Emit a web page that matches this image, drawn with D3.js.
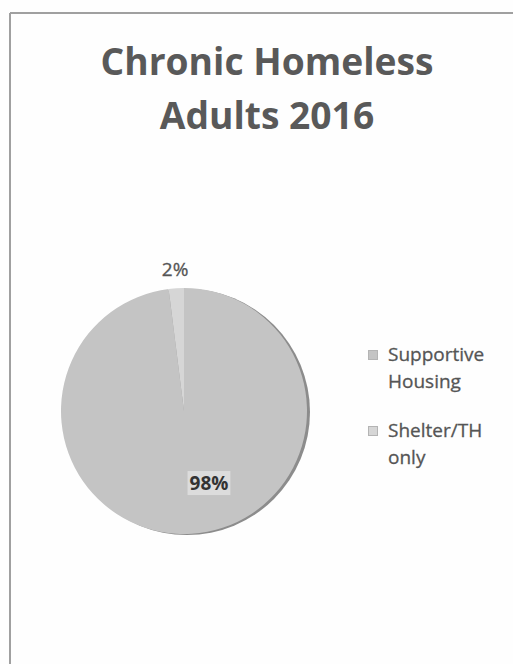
<!DOCTYPE html>
<html>
<head>
<meta charset="utf-8">
<script src="https://cdn.jsdelivr.net/npm/d3@7/dist/d3.min.js"></script>
<style>
  html, body { margin: 0; padding: 0; background: #fefefe; }
  svg { display: block; }
</style>
</head>
<body>
<svg id="chart" width="513" height="664"></svg>
<script>
// Chart content
const titleLines = ["Chronic Homeless", "Adults 2016"];
const categories = ["Supportive Housing", "Shelter/TH only"];
const legendLines = [["Supportive", "Housing"], ["Shelter/TH", "only"]];
const values = [98, 2];
const sliceColors = ["#c4c4c4", "#d6d6d6"];

const W = 513, H = 664;
const svg = d3.select("#chart");
const fontFam = "'Open Sans', Lato, sans-serif";

// Shrink or grow a text element's font so it spans the given width
function fitWidth(sel, target) {
  const fs = +sel.attr("font-size");
  const w = sel.node().getComputedTextLength();
  sel.attr("font-size", (fs * target / w).toFixed(2));
}

// Frame: left and top edges of the chart area
svg.append("line").attr("x1", 10).attr("y1", 13).attr("x2", W).attr("y2", 13)
  .attr("stroke", "#a0a0a0").attr("stroke-width", 2);
svg.append("line").attr("x1", 10).attr("y1", 13).attr("x2", 10).attr("y2", H)
  .attr("stroke", "#a0a0a0").attr("stroke-width", 2);

// Title
const title = svg.append("g");
const titleTexts = titleLines.map((t, i) =>
  title.append("text")
    .attr("x", 267).attr("y", 75 + i * 54)
    .attr("text-anchor", "middle")
    .attr("font-family", fontFam)
    .attr("font-weight", 700)
    .attr("font-size", 34)
    .attr("fill", "#595959")
    .text(t));
fitWidth(titleTexts[0], 333);
titleTexts[1].attr("font-size", titleTexts[0].attr("font-size"));

// Pie
const cx = 184, cy = 411, r = 123;
const pie = d3.pie().sort(null).value(d => d);
const arcs = pie(values);
const arc = d3.arc().innerRadius(0).outerRadius(r);
const g = svg.append("g").attr("transform", `translate(${cx},${cy})`);

// soft rim on the right side
g.append("circle").attr("cx", 3).attr("cy", 1).attr("r", r)
  .attr("fill", "#8c8c8c");

g.selectAll("path.slice").data(arcs).enter().append("path")
  .attr("class", "slice")
  .attr("d", arc)
  .attr("fill", (d, i) => sliceColors[i]);

// Data labels
// 98% sits inside the large slice, a little toward the lower right, on a light box
const big = arcs[0];
const bigAngle = (big.startAngle + big.endAngle) / 2 - 15.5 * Math.PI / 180;
const pBig = d3.pointRadial(bigAngle, r * 0.62);
const bigText = g.append("text")
  .attr("x", pBig[0]).attr("y", pBig[1])
  .attr("text-anchor", "middle").attr("dominant-baseline", "central")
  .attr("font-family", fontFam).attr("font-size", 19).attr("font-weight", 700)
  .attr("fill", "#333333")
  .text(d3.format(".0f")(values[0]) + "%");
const bb = bigText.node().getBBox();
g.insert("rect", () => bigText.node())
  .attr("x", bb.x - 2).attr("y", bb.y + 1).attr("width", bb.width + 4).attr("height", bb.height - 2)
  .attr("fill", "#dcdcdc");

// 2% outside the thin slice
const lblOuter = d3.arc().innerRadius(r + 19).outerRadius(r + 19);
const small = arcs[1];
const pSmall = lblOuter.centroid(small);
g.append("text")
  .attr("x", pSmall[0]).attr("y", pSmall[1])
  .attr("text-anchor", "middle").attr("dominant-baseline", "central")
  .attr("font-family", fontFam).attr("font-size", 19)
  .attr("fill", "#555555").attr("stroke", "#555555").attr("stroke-width", 0.3)
  .text(values[1] + "%");

// Legend
const legend = svg.append("g").attr("transform", "translate(368,344)");
const legY = d3.scalePoint().domain(categories).range([0, 76]);
categories.forEach((c, i) => {
  const y = legY(c);
  legend.append("rect").attr("x", 0.5).attr("y", y + 6.5).attr("width", 9).attr("height", 9)
    .attr("fill", sliceColors[i]).attr("stroke", "#b4b4b4").attr("stroke-width", 1);
  legendLines[i].forEach((line, j) => {
    legend.append("text")
      .attr("x", 20).attr("y", y + 17 + j * 26.5)
      .attr("font-family", fontFam).attr("font-size", 19)
      .attr("fill", "#555555").attr("stroke", "#555555").attr("stroke-width", 0.3)
      .text(line);
  });
});
</script>
</body>
</html>
